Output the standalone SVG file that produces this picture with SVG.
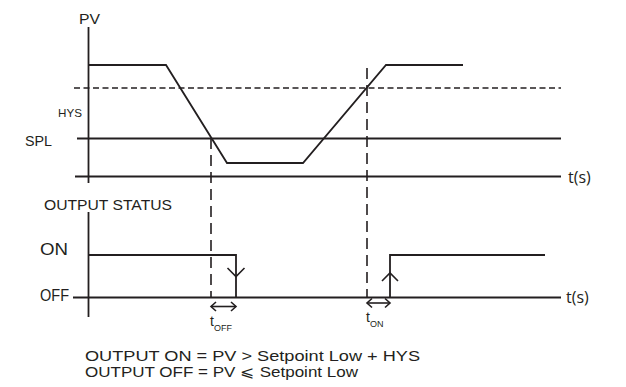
<svg xmlns="http://www.w3.org/2000/svg" width="626" height="387" viewBox="0 0 626 387">
<style>
.ln{fill:none;stroke:#231f20;stroke-width:1.8}
.ar{fill:none;stroke:#231f20;stroke-width:1.6}
.dh{fill:none;stroke:#231f20;stroke-width:1.6;stroke-dasharray:6 3.5}
.dv{fill:none;stroke:#231f20;stroke-width:1.6;stroke-dasharray:11 6}
.tx{font-family:"Liberation Sans",Arial,sans-serif;fill:#231f20}
.ts{font-family:"Open Sans","Liberation Sans",sans-serif;fill:#231f20;font-size:16px}
</style>
<rect width="626" height="387" fill="#ffffff"/>
<g id="axes">
<line class="ln" x1="88.5" y1="27" x2="88.5" y2="183"/>
<line class="ln" x1="75" y1="176.5" x2="561" y2="176.5"/>
<line class="ln" x1="88.5" y1="212" x2="88.5" y2="317"/>
<line class="ln" x1="73" y1="297.5" x2="561" y2="297.5"/>
</g>
<g id="levels">
<line class="ln" x1="77" y1="138.5" x2="561" y2="138.5"/>
<line class="dh" x1="74" y1="88" x2="561" y2="88"/>
</g>
<g id="pv-curve">
<polyline class="ln" points="88,65 166,65 227,163 303,163 386,65 463,65"/>
</g>
<g id="output-curve">
<polyline class="ln" points="88,255 236,255 236,297.5"/>
<polyline class="ar" points="227.5,268 236,276.5 244.5,268"/>
<polyline class="ln" points="390,297.5 390,255 545,255"/>
<polyline class="ar" points="382,281 390,273 398,281"/>
</g>
<g id="connectors">
<line class="dv" x1="211" y1="138" x2="211" y2="298"/>
<line class="dv" x1="367" y1="68" x2="367" y2="298"/>
<line class="ar" x1="211" y1="306.5" x2="236" y2="306.5"/>
<polyline class="ar" points="216,302 211,306.5 216,311"/>
<polyline class="ar" points="231,302 236,306.5 231,311"/>
<line class="ar" x1="367" y1="303" x2="390" y2="303"/>
<polyline class="ar" points="372,298.5 367,303 372,307.5"/>
<polyline class="ar" points="385,298.5 390,303 385,307.5"/>
</g>
<g id="labels">
<text class="tx" x="79" y="24" font-size="15" textLength="21" lengthAdjust="spacingAndGlyphs">PV</text>
<text class="tx" x="58" y="117" font-size="11" textLength="24" lengthAdjust="spacingAndGlyphs">HYS</text>
<text class="tx" x="25" y="146" font-size="15" textLength="27" lengthAdjust="spacingAndGlyphs">SPL</text>
<text class="ts" x="568" y="183">t(s)</text>
<text class="tx" x="44" y="210" font-size="15" textLength="128" lengthAdjust="spacingAndGlyphs">OUTPUT STATUS</text>
<text class="tx" x="40" y="255" font-size="16" textLength="28" lengthAdjust="spacingAndGlyphs">ON</text>
<text class="tx" x="40" y="301" font-size="16" textLength="29" lengthAdjust="spacingAndGlyphs">OFF</text>
<text class="ts" x="566" y="303">t(s)</text>
<text class="tx" x="210" y="326" font-size="14">t<tspan font-size="9" dy="5">OFF</tspan></text>
<text class="tx" x="366" y="322" font-size="14">t<tspan font-size="9" dy="5">ON</tspan></text>
<text class="tx" x="85" y="361" font-size="15" textLength="335" lengthAdjust="spacingAndGlyphs">OUTPUT ON = PV &gt; Setpoint Low + HYS</text>
<text class="tx" x="85" y="377" font-size="15" textLength="273" lengthAdjust="spacingAndGlyphs">OUTPUT OFF = PV ⩽ Setpoint Low</text>
</g>
</svg>
